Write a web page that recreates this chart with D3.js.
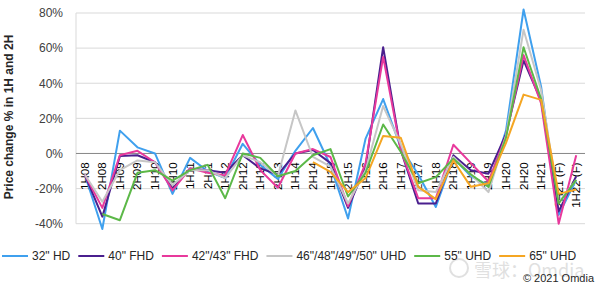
<!DOCTYPE html>
<html>
<head>
<meta charset="utf-8">
<script src="https://cdn.jsdelivr.net/npm/d3@7"></script>
<style>
  body { margin: 0; background: #fff; }
  svg { display: block; font-family: "Liberation Sans", Arial, sans-serif; }
</style>
</head>
<body>
<div id="chart"></div>
<script>
const categories = ['1H08','2H08','1H09','2H09','1H10','2H10','1H11','2H11','1H12','2H12',
  '1H13','2H13','1H14','2H14','1H15','2H15','1H16','2H16','1H17','2H17',
  '1H18','2H18','1H19','2H19','1H20','2H20','1H21','2H21 (F)','1H22 (F)'];

const yTicks = [-40, -20, 0, 20, 40, 60, 80];

const hd32 = [-12,-43,13,3.5,0,-23,-2.5,-10,-14,5.5,-6.5,-14.5,1.5,14.5,-7,-37,8.5,31,3.5,-12,
  -30.5,-2.5,-13,-18,13,82,38,-35,-15];
const fhd40 = [-12,-36,-1.5,-1,-5,-20,-8.5,-9.5,-11,-1,-8.5,-12,0,2,-5.5,-31,-7.5,60.5,2,-28.5,
  -28.5,-1,-9.5,-11.5,11,53,30,-33,-13];
const fhd42 = [-12,-31,-1,1.5,-5,-21,-8.5,-11,-12.5,10.5,-9.5,-19.5,0,2.5,-2,-30,-5.5,55,2,-25.5,
  -25.5,5,-5.5,-16,10,56,28.5,-40,-1];
const uhd46 = [-12,-27.5,-9.5,-4,-5,-18,-9.5,-9.5,-14,-1,-5,-13,24.5,-2,-7.5,-28.5,-9.5,27,5.5,-21,
  -22,-2,-12,-22,10,70.5,36,-28,-15];
const uhd55 = [null,-34.5,-38,-11,-9.5,-15.5,-9.5,-6.5,-25.5,0,-2.5,-13,-10,-1,2.5,-24.5,-11,16.5,1,-17,
  -13.5,-3,-12,-19,9,60.5,31,-28.5,-15];
const uhd65 = [null,null,null,null,null,null,null,null,null,null,null,null,null,-5,-10.5,-22,-14,10,9,-19,
  -26,-4,-19,-17,6,33.5,30.5,-23,-20.5];

const seriesNames = ['32" HD', '40" FHD', '42"/43" FHD', '46"/48"/49"/50" UHD', '55" UHD', '65" UHD'];
const seriesValues = [hd32, fhd40, fhd42, uhd46, uhd55, uhd65];
const seriesColors = ['#3FA0EE', '#4A1F8E', '#E8399C', '#C6C6C6', '#5CB848', '#F5A623'];

const width = 601, height = 290;
const plot = { left: 76, right: 585, top: 13, bottom: 223.7 };

const svg = d3.select('#chart').append('svg')
  .attr('width', width)
  .attr('height', height);

const x = d3.scalePoint().domain(categories).range([plot.left, plot.right]).padding(0.5);
const y = d3.scaleLinear().domain([-40, 80]).range([plot.bottom, plot.top]);

//Gridlines
svg.append('g')
  .selectAll('line')
  .data(yTicks.filter(d => d !== 0))
  .enter()
  .append('line')
  .attr('x1', plot.left)
  .attr('x2', plot.right)
  .attr('y1', d => y(d))
  .attr('y2', d => y(d))
  .attr('stroke', '#D9D9D9')
  .attr('stroke-width', 1);

//Y axis line
svg.append('line')
  .attr('x1', plot.left).attr('x2', plot.left)
  .attr('y1', y(80)).attr('y2', y(-40))
  .attr('stroke', '#D9D9D9');

//Y tick labels
const yAxis = svg.append('g')
  .attr('transform', 'translate(' + (plot.left - 13) + ',0)')
  .call(d3.axisLeft(y).tickValues(yTicks).tickSize(0).tickPadding(0).tickFormat(d => d + '%'));
yAxis.select('.domain').remove();
yAxis.selectAll('text')
  .style('font-size', '12px')
  .style('font-family', '"Liberation Sans", Arial, sans-serif')
  .attr('fill', '#404040');

//Zero line
svg.append('line')
  .attr('x1', plot.left).attr('x2', plot.right)
  .attr('y1', y(0)).attr('y2', y(0))
  .attr('stroke', '#868686')
  .attr('stroke-width', 1);

//Category labels, rotated, hanging under the zero line
svg.append('g')
  .selectAll('text')
  .data(categories)
  .enter()
  .append('text')
  .attr('transform', d => 'translate(' + x(d) + ',' + (y(0) + 9) + ') rotate(-90)')
  .attr('text-anchor', 'end')
  .attr('dy', '0.35em')
  .style('font-size', '11.5px')
  .attr('fill', '#000')
  .text(d => d);

//Lines
const line = d3.line()
  .defined(d => d.v != null)
  .x(d => x(d.c))
  .y(d => y(d.v));

svg.append('g')
  .selectAll('path')
  .data(seriesValues)
  .enter()
  .append('path')
  .attr('fill', 'none')
  .attr('stroke', (d, i) => seriesColors[i])
  .attr('stroke-width', 2)
  .attr('stroke-linejoin', 'round')
  .attr('d', vals => line(vals.map((v, i) => ({ c: categories[i], v: v }))));

//Y axis title
svg.append('text')
  .attr('transform', 'translate(13,' + 117 + ') rotate(-90)')
  .attr('text-anchor', 'middle')
  .style('font-size', '12px')
  .style('font-weight', 'bold')
  .attr('fill', '#262626')
  .text('Price change % in 1H and 2H');

//Watermark (drawn under the legend)
const wm = svg.append('g').attr('opacity', 0.3);
wm.append('circle')
  .attr('cx', 459).attr('cy', 268).attr('r', 9)
  .attr('fill', 'none').attr('stroke', '#9a9a9a').attr('stroke-width', 2);
wm.append('text')
  .attr('x', 474).attr('y', 277)
  .style('font-family', '"Noto Sans CJK SC", sans-serif')
  .style('font-size', '18px')
  .attr('fill', '#9a9a9a')
  .text('雪球：Omdia');

//Legend laid out left to right
const legend = svg.append('g').attr('transform', 'translate(2,256)');
let lx = 0;
seriesNames.forEach((name, i) => {
  legend.append('line')
    .attr('x1', lx).attr('x2', lx + 26)
    .attr('y1', 0).attr('y2', 0)
    .attr('stroke', seriesColors[i])
    .attr('stroke-width', 2);
  const t = legend.append('text')
    .attr('x', lx + 30)
    .attr('dy', '0.35em')
    .style('font-size', '12px')
    .attr('fill', '#262626')
    .text(name);
  lx += 30 + t.node().getComputedTextLength() + 8;
});

svg.append('text')
  .attr('x', 594).attr('y', 282)
  .attr('text-anchor', 'end')
  .style('font-size', '11px')
  .attr('fill', '#262626')
  .text('© 2021 Omdia');
</script>
</body>
</html>
